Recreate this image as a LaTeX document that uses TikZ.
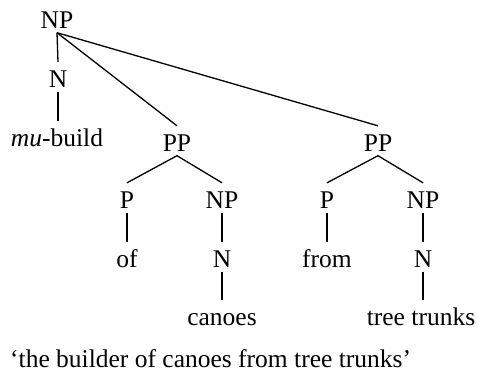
\documentclass[tikz,border=0pt]{standalone}
\usepackage{fontspec}
\setmainfont{Liberation Serif}
\begin{document}
\begin{tikzpicture}[x=1bp,y=-1bp,
  lab/.style={inner sep=0pt, text height=25bp, text depth=4.5bp, anchor=base, font=\fontsize{25.5bp}{30bp}\selectfont},
  edge/.style={line width=1.3bp}]
\useasboundingbox (0,0) rectangle (477,372);
\node[lab] (np0) at (57,28) {NP};
\node[lab] (n0) at (58,87) {N};
\node[lab] (mu) at (57,146) {\textit{mu}-build};
\node[lab] (pp1) at (177,151) {PP};
\node[lab] (pp2) at (378,151) {PP};
\node[lab] (p1) at (127,208) {P};
\node[lab] (np1) at (222,208) {NP};
\node[lab] (p2) at (327,208) {P};
\node[lab] (np2) at (423,208) {NP};
\node[lab] (of) at (127,267) {of};
\node[lab] (n1) at (222,267) {N};
\node[lab] (from) at (327,267) {from};
\node[lab] (n2) at (423,267) {N};
\node[lab] (canoes) at (222,325) {canoes};
\node[lab] (trunks) at (421,325) {tree trunks};
\node[lab, anchor=base west] (gloss) at (10,367) {‘the builder of canoes from tree trunks’};
\draw[edge] (np0.south) -- (n0.north);
\draw[edge] (n0.south) -- (n0.south |- mu.north);
\draw[edge] (np0.south) -- (pp1.north);
\draw[edge] (np0.south) -- (pp2.north);
\draw[edge] (pp1.south) -- (p1.north);
\draw[edge] (pp1.south) -- (np1.north);
\draw[edge] (pp2.south) -- (p2.north);
\draw[edge] (pp2.south) -- (np2.north);
\draw[edge] (p1.south) -- (of.north);
\draw[edge] (np1.south) -- (n1.north);
\draw[edge] (n1.south) -- (canoes.north);
\draw[edge] (p2.south) -- (from.north);
\draw[edge] (np2.south) -- (n2.north);
\draw[edge] (n2.south) -- (n2.south |- trunks.north);
\end{tikzpicture}
\end{document}
